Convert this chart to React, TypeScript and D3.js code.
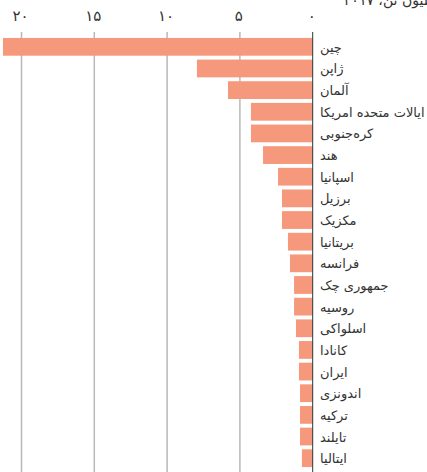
import React from "react";
import * as d3 from "d3";

const countries = [
  "چین", "ژاپن", "آلمان", "ایالات متحده امریکا", "کره‌جنوبی", "هند", "اسپانیا", "برزیل", "مکزیک", "بریتانیا",
  "فرانسه", "جمهوری چک", "روسیه", "اسلواکی", "کانادا", "ایران", "اندونزی", "ترکیه", "تایلند", "ایتالیا",
];
const values = [21.27, 7.95, 5.82, 4.24, 4.24, 3.41, 2.38, 2.11, 2.11, 1.7, 1.56, 1.28, 1.28, 1.15, 0.94, 0.94, 0.87, 0.87, 0.87, 0.74];
const tickValues = [0, 5, 10, 15, 20];
const tickLabels = ["۰", "۵", "۱۰", "۱۵", "۲۰"];
const caption = "میلیون تن، ۲۰۱۷";

const W = 427;
const H = 472;
const FONT = "'DejaVu Sans', sans-serif";

export default function App() {
  const x = d3.scaleLinear().domain([0, 20]).range([312.7, 21.5]);
  const y = d3.scaleBand<string>().domain(countries).range([36, 469]).paddingInner(0.18).paddingOuter(0.09);
  const data = countries.map((c, i) => ({ c, v: values[i] }));
  return (
    <svg width={W} height={H} style={{ position: "absolute", left: 0, top: 0, background: "#fff" }}>
      <text x={440} y={5} direction="rtl" textAnchor="start" fontFamily={FONT} fontSize={14} fill="#333">{caption}</text>
      {tickValues.map((t, i) => (
        <g key={t}>
          {t !== 0 && <line x1={x(t)} x2={x(t)} y1={32} y2={H} stroke="#b8b8b8" strokeWidth={1.5} />}
          <text x={x(t) - 1} y={21} textAnchor="middle" fontFamily={FONT} fontSize={15} fill="#333">{tickLabels[i]}</text>
        </g>
      ))}
      {data.map((d) => (
        <rect key={d.c} x={x(d.v)} y={y(d.c)} width={x(0) - x(d.v)} height={y.bandwidth()} fill="#f5987b" />
      ))}
      <line x1={x(0)} x2={x(0)} y1={32} y2={H} stroke="#333" strokeWidth={1} />
      {data.map((d) => (
        <text key={d.c} x={320} y={(y(d.c) as number) + y.bandwidth() / 2 + 5} direction="rtl" textAnchor="end" fontFamily={FONT} fontSize={13} fill="#333">{d.c}</text>
      ))}
    </svg>
  );
}
